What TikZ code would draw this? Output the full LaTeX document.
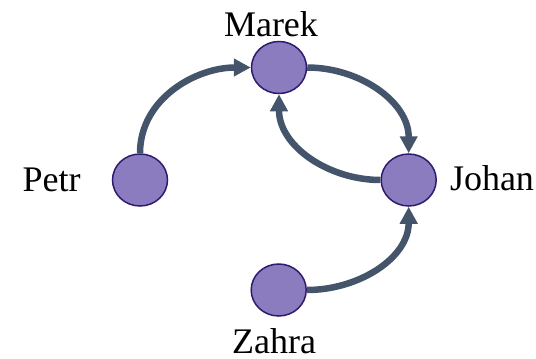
\documentclass[tikz,border=0pt]{standalone}
\usepackage{fontspec}
\setmainfont{Liberation Serif}
\usetikzlibrary{arrows.meta,shapes.geometric}
\definecolor{personfill}{HTML}{8B7CC0}
\definecolor{personline}{HTML}{2E1A6E}
\definecolor{linkgray}{HTML}{44546A}
\begin{document}
\begin{tikzpicture}[x=1pt, y=-1pt,
    person/.style={ellipse, draw=personline, fill=personfill, line width=1.5pt, minimum width=55pt, minimum height=52pt, inner sep=0pt},
    personlbl/.style={font=\fontsize{36}{40}\selectfont, inner sep=0pt, anchor=base},
    link/.style={draw=linkgray, line width=6.5pt, -{Triangle[length=17pt,width=17pt]}}]
            \useasboundingbox (0,0) rectangle (536,359);

            % Nodes
            \node[person] (marek) at (279,67.5) {};
            \node[person] (petr) at (140,180) {};
            \node[person] (johan) at (408.7,180) {};
            \node[person] (zahra) at (278.7,290) {};

            % Names
            \node[personlbl] (mareklbl) at (271,36.7) {Marek};
            \node[personlbl] (petrlbl) at (51.7,191.7) {Petr};
            \node[personlbl] (johanlbl) at (492,190) {Johan};
            \node[personlbl] (zahralbl) at (274,353.5) {Zahra};

            % Edges
            \draw[link] (petr) to[out=90, in=180] (marek);
            \draw[link] (marek) to[out=0, in=90] (johan);
            \draw[link] (johan) to[out=180, in=-90] (marek);
            \draw[link] (zahra) to[out=0, in=-90] (johan);
        \end{tikzpicture}
\end{document}
